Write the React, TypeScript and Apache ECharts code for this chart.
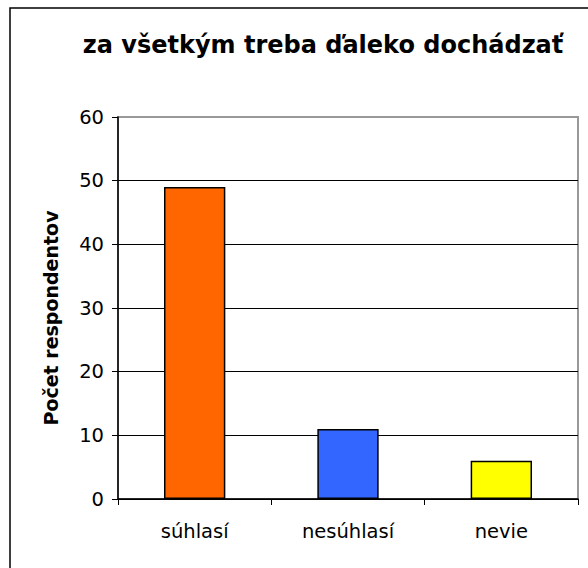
import React, { useEffect, useRef } from "react";
import * as echarts from "echarts";

const categories = ["súhlasí", "nesúhlasí", "nevie"];
const values = [49, 11, 6];
const barColors = ["#FF6600", "#3366FF", "#FFFF00"];
const titleText = "za všetkým treba ďaleko dochádzať";
const yAxisName = "Počet respondentov";

export default function App() {
  const ref = useRef<HTMLDivElement>(null);
  useEffect(() => {
    document.body.style.margin = "0";
    const chart = echarts.init(ref.current!, null, { renderer: "svg" });
    const font = "'DejaVu Sans', sans-serif";
    chart.setOption({
      animation: false,
      backgroundColor: "#fff",
      title: {
        text: titleText,
        left: 318,
        top: 28,
        textAlign: "center",
        textStyle: { fontFamily: font, fontWeight: "bold", fontSize: 24, color: "#000" },
      },
      graphic: [
        {
          type: "rect",
          shape: { x: 10, y: 8, width: 700, height: 700 },
          style: { fill: "none", stroke: "#000", lineWidth: 1.5 },
          silent: true,
        },
      ],
      grid: {
        left: 118,
        top: 117,
        right: 10,
        bottom: 69,
        show: true,
        borderColor: "#999",
        borderWidth: 2,
        backgroundColor: "transparent",
      },
      xAxis: {
        type: "category",
        data: categories,
        axisLine: { lineStyle: { color: "#000", width: 1.5 } },
        axisTick: { show: true, alignWithLabel: false, length: 6, lineStyle: { color: "#000" } },
        axisLabel: { color: "#000", fontFamily: font, fontSize: 19.5, margin: 22 },
      },
      yAxis: {
        type: "value",
        min: 0,
        max: 60,
        interval: 10,
        name: yAxisName,
        nameLocation: "middle",
        nameGap: 58,
        nameTextStyle: {
          fontFamily: font,
          fontWeight: "bold",
          fontSize: 19,
          color: "#000",
          padding: [0, 20, 0, 0],
        },
        axisLine: { show: true, lineStyle: { color: "#000", width: 1.5 } },
        axisTick: { show: true, length: 6, lineStyle: { color: "#000" } },
        axisLabel: { color: "#000", fontFamily: font, fontSize: 19.5, margin: 14 },
        splitLine: {
          show: true,
          lineStyle: { color: ["#000", "#000", "#000", "#000", "#000", "#000", "#999"], width: 1 },
        },
      },
      series: [
        {
          type: "bar",
          barWidth: "40%",
          data: values.map((v, i) => ({
            value: v,
            itemStyle: { color: barColors[i], borderColor: "#000", borderWidth: 1.5 },
          })),
        },
      ],
    });
    return () => chart.dispose();
  }, []);
  return <div ref={ref} style={{ width: 588, height: 568 }} />;
}
